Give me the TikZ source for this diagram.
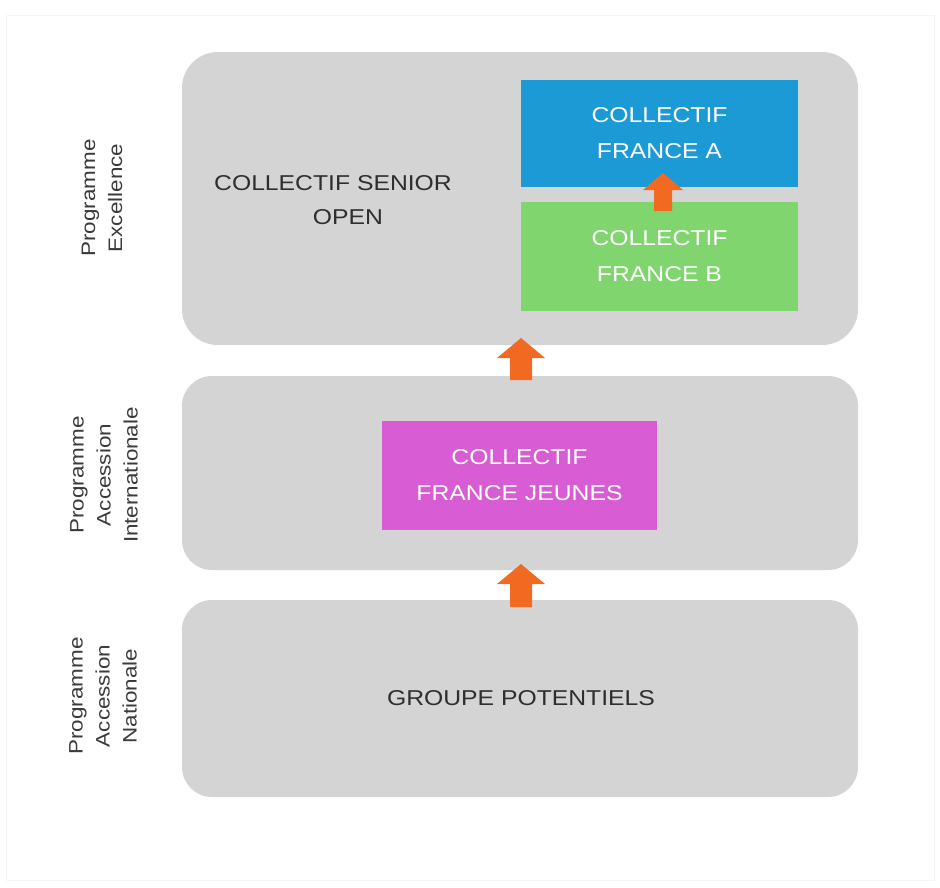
\documentclass[tikz,border=0pt]{standalone}
\usepackage{fontspec}
\setmainfont[FakeStretch=1.15]{Liberation Sans}
\begin{document}
\begin{tikzpicture}[x=1pt,y=-1pt,
  panel/.style={fill=panelgray,draw=none,rounded corners=36pt},
  coll/.style={draw=none,text=white,font=\fontsize{21.5}{36}\selectfont,align=center,inner sep=0pt},
  side/.style={rotate=90,align=center,text=sidetext,font=\fontsize{19.5}{27}\selectfont,inner sep=0pt},
  pics/uparrow/.style n args={4}{code={
    \fill[arrorange] (0,0) -- (#1,#3) -- (#2,#3) -- (#2,#4) -- (-#2,#4) -- (-#2,#3) -- (-#1,#3) -- cycle;}}
]
\definecolor{panelgray}{HTML}{D4D4D4}
\definecolor{bluea}{HTML}{1C9AD6}
\definecolor{greenb}{HTML}{80D56E}
\definecolor{magj}{HTML}{D85DD4}
\definecolor{arrorange}{HTML}{F26A22}
\definecolor{sidetext}{HTML}{3A3A3A}
\definecolor{maintext}{HTML}{2E2E2E}
\useasboundingbox (0,0) rectangle (940,887);
\fill[white] (0,0) rectangle (940,887);
\draw[black!4,line width=1pt] (6,15) rectangle (934,880);
% panels
\path[panel] (182,52) rectangle (858,345);
\path[panel,rounded corners=30pt] (182,376) rectangle (858,570);
\path[panel,rounded corners=30pt] (182,600) rectangle (858,797);
% boxes
\node[coll,fill=bluea,minimum width=277pt,minimum height=107pt] (fa) at (659.5,133.5) {COLLECTIF\\FRANCE A};
\node[coll,fill=greenb,minimum width=277pt,minimum height=109pt] (fb) at (659.5,256.5) {COLLECTIF\\FRANCE B};
\node[coll,fill=magj,minimum width=275pt,minimum height=109pt] (fj) at (519.5,475.5) {COLLECTIF\\FRANCE JEUNES};
% texts
\node[align=center,text=maintext,font=\fontsize{21.5}{34}\selectfont,inner sep=0pt] (senior) at (333,200) {COLLECTIF SENIOR\\\hspace*{30pt}OPEN};
\node[text=maintext,font=\fontsize{21.5}{29}\selectfont,inner sep=0pt] (gp) at (521,698) {GROUPE POTENTIELS};
% side labels
\node[side] (s1) at (102,198) {Programme\\Excellence};
\node[side] (s2) at (104,475) {Programme\\Accession\\Internationale};
\node[side] (s3) at (103,696) {Programme\\Accession\\Nationale};
% arrows
\pic at (521,338) {uparrow={24}{11}{20}{42}};
\pic at (521,564) {uparrow={24}{11}{20}{43}};
\pic at (663,173) {uparrow={20}{9}{17}{38}};
\end{tikzpicture}
\end{document}
